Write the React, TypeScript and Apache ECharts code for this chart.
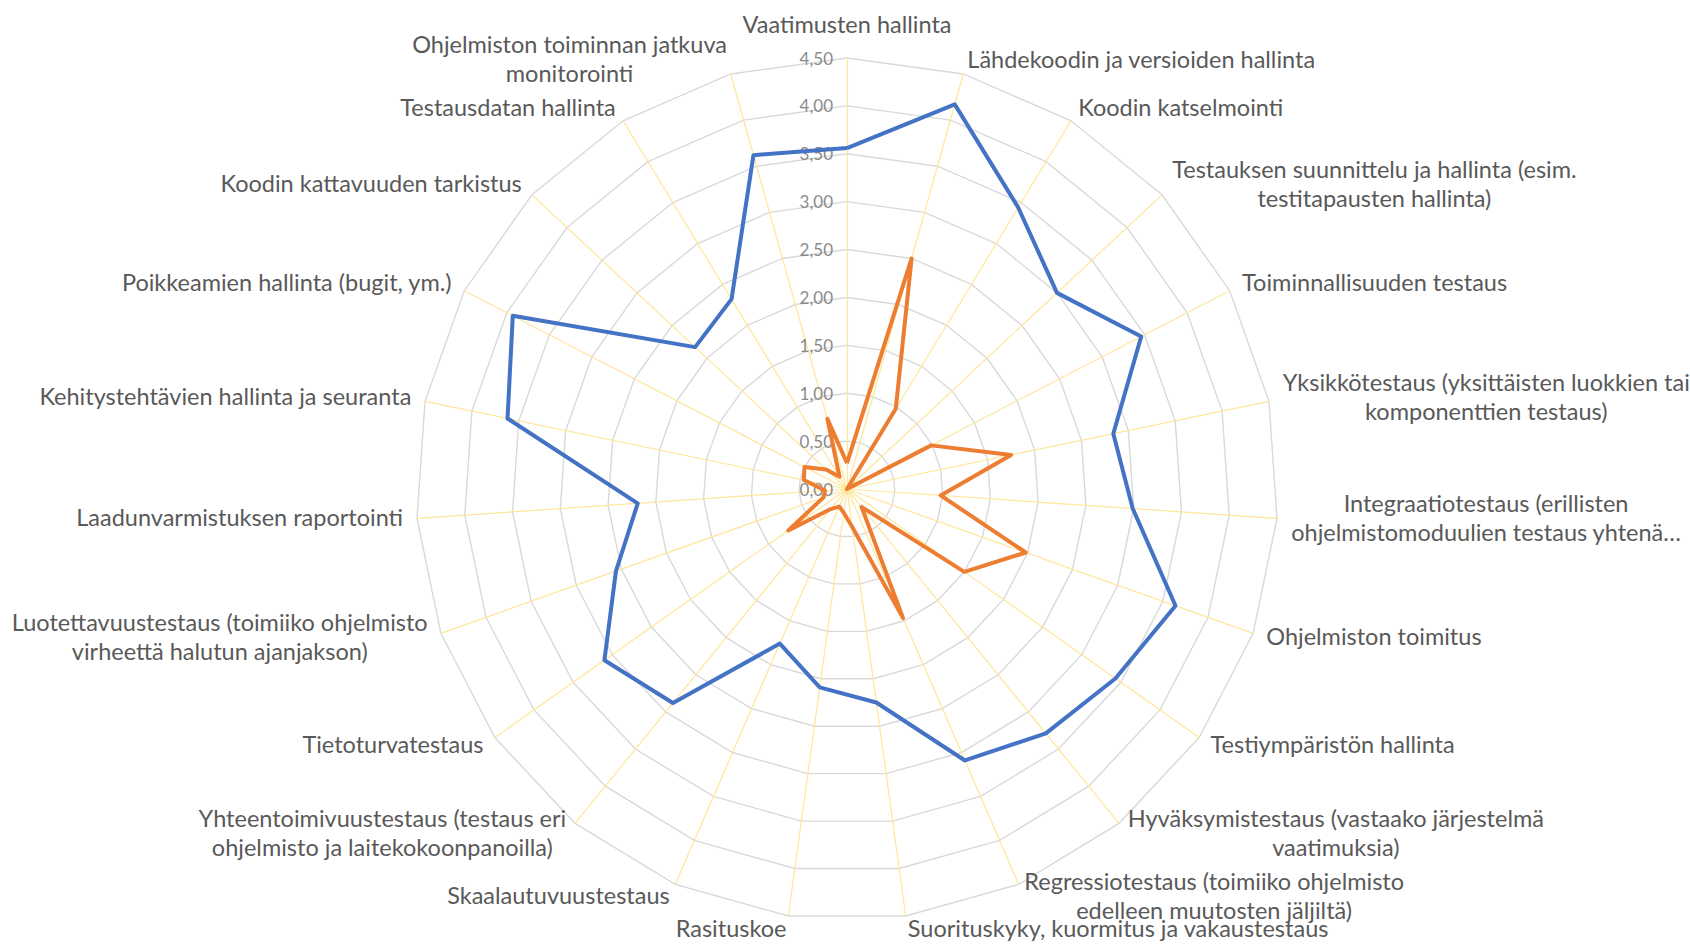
import React, { useEffect, useRef } from 'react';
import * as echarts from 'echarts';

// Categories in clockwise order, starting from the top
const categories: string[] = [
  'Vaatimusten hallinta',
  'Lähdekoodin ja versioiden hallinta',
  'Koodin katselmointi',
  'Testauksen suunnittelu ja hallinta (esim.\ntestitapausten hallinta)',
  'Toiminnallisuuden testaus',
  'Yksikkötestaus (yksittäisten luokkien tai\nkomponenttien testaus)',
  'Integraatiotestaus (erillisten\nohjelmistomoduulien testaus yhtenä…',
  'Ohjelmiston toimitus',
  'Testiympäristön hallinta',
  'Hyväksymistestaus (vastaako järjestelmä\nvaatimuksia)',
  'Regressiotestaus (toimiiko ohjelmisto\nedelleen muutosten jäljiltä)',
  'Suorituskyky, kuormitus ja vakaustestaus',
  'Rasituskoe',
  'Skaalautuvuustestaus',
  'Yhteentoimivuustestaus (testaus eri\nohjelmisto ja laitekokoonpanoilla)',
  'Tietoturvatestaus',
  'Luotettavuustestaus (toimiiko ohjelmisto\nvirheettä halutun ajanjakson)',
  'Laadunvarmistuksen raportointi',
  'Kehitystehtävien hallinta ja seuranta',
  'Poikkeamien hallinta (bugit, ym.)',
  'Koodin kattavuuden tarkistus',
  'Testausdatan hallinta',
  'Ohjelmiston toiminnan jatkuva\nmonitorointi',
];

const blueValues: number[] = [
  3.56, 4.17, 3.44, 3.0, 3.46, 2.84, 2.99, 3.64, 3.43, 3.29, 3.09, 2.25,
  2.09, 1.76, 2.88, 3.1, 2.56, 2.19, 3.62, 3.93, 2.17, 2.32, 3.62,
];

const orangeValues: number[] = [
  0.27, 2.5, 0.98, 0.0, 0.99, 1.75, 0.98, 1.98, 1.5, 0.24, 1.47, 0.4,
  0.25, 0.2, 0.27, 0.75, 0.26, 0.23, 0.46, 0.5, 0.3, 0.15, 0.76,
];

const axisMin = 0;
const axisMax = 4.5;
const axisStep = 0.5;

const FONT = 'Lato';
const NAME_SIZE = 23.5;
const NAME_COLOR = '#595959';

export default function App() {
  const ref = useRef<HTMLDivElement>(null);

  useEffect(() => {
    if (!ref.current) return;
    const chart = echarts.init(ref.current, null, { renderer: 'svg' });
    const center = [847, 489];
    const radius = 431;

    // ECharts places radar indicators counter-clockwise; reorder so the
    // categories run clockwise like the reference.
    const n = categories.length;
    const order = [0];
    for (let i = n - 1; i >= 1; i--) order.push(i);
    const indicatorNames = order.map((i) => categories[i]);
    const blueOrdered = order.map((i) => blueValues[i]);
    const orangeOrdered = order.map((i) => orangeValues[i]);

    const richBase = {
      align: 'center',
      color: NAME_COLOR,
      fontSize: NAME_SIZE,
      fontFamily: FONT,
      lineHeight: 29,
      padding: [0, 0, 4, 0],
    };

    const option: any = {
      animation: false,
      backgroundColor: '#ffffff',
      radar: {
        center,
        radius,
        startAngle: 90,
        splitNumber: Math.round((axisMax - axisMin) / axisStep),
        shape: 'polygon',
        indicator: indicatorNames.map((name) => ({ name, min: axisMin, max: axisMax })),
        axisNameGap: 14,
        axisName: {
          color: NAME_COLOR,
          fontSize: NAME_SIZE,
          fontFamily: FONT,
          lineHeight: 29,
          formatter: (name: string) => {
            const key = name === categories[0] ? 't' : 'c';
            return name
              .split('\n')
              .map((l) => `{${key}|${l}}`)
              .join('\n');
          },
          rich: {
            c: richBase,
            t: { ...richBase, padding: [0, 0, 12, 0] },
          },
        },
        axisLine: { lineStyle: { color: '#ffe699', width: 1.2 } },
        splitLine: { lineStyle: { color: '#d9d9d9', width: 1.4 } },
        splitArea: { show: false },
        axisTick: { show: false },
        axisLabel: { show: false },
      },
      polar: { center, radius },
      angleAxis: {
        type: 'value',
        show: false,
        startAngle: 90,
        min: 0,
        max: 360,
      },
      radiusAxis: {
        type: 'value',
        min: axisMin,
        max: axisMax,
        interval: axisStep,
        axisLine: { show: false },
        axisTick: { show: false },
        splitLine: { show: false },
        axisLabel: {
          formatter: (v: number) => v.toFixed(2).replace('.', ','),
          color: '#8a8a8a',
          fontSize: 17,
          fontFamily: FONT,
          margin: 14,
        },
      },
      series: [
        {
          type: 'radar',
          symbol: 'none',
          lineStyle: { width: 4, color: '#4472C4' },
          itemStyle: { color: '#4472C4' },
          data: [{ value: blueOrdered, name: 'Sarja 1' }],
        },
        {
          type: 'radar',
          symbol: 'none',
          lineStyle: { width: 4, color: '#ED7D31' },
          itemStyle: { color: '#ED7D31' },
          data: [{ value: orangeOrdered, name: 'Sarja 2' }],
        },
      ],
    };
    chart.setOption(option);
    return () => {
      chart.dispose();
    };
  }, []);

  return (
    <div
      ref={ref}
      style={{ position: 'absolute', left: 0, top: 0, width: 1690, height: 945, background: '#fff' }}
    />
  );
}
